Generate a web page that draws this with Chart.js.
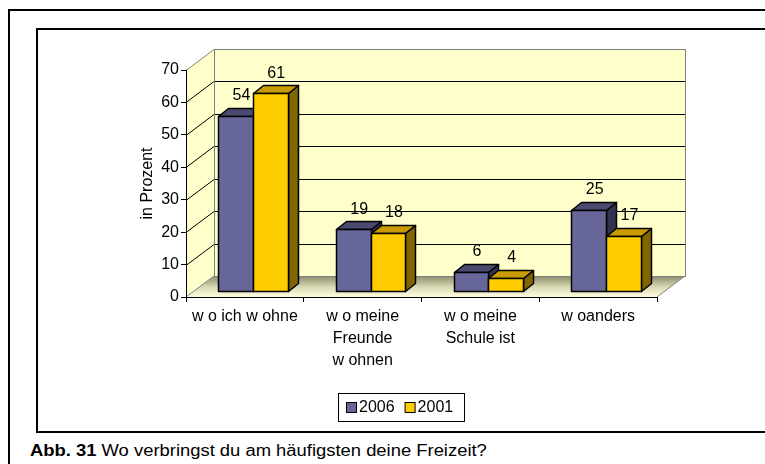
<!DOCTYPE html>
<html>
<head>
<meta charset="utf-8">
<script src="https://cdn.jsdelivr.net/npm/chart.js@4.4.1/dist/chart.umd.min.js"></script>
<style>
  html, body { margin: 0; padding: 0; background: #fff; overflow: hidden; }
  body { width: 765px; height: 464px; position: relative; font-family: "Liberation Sans", Arial, sans-serif; }
  .outer { position: absolute; left: 8px; top: 9px; width: 800px; height: 500px; border: 2px solid #000; box-sizing: border-box; }
  .inner { position: absolute; left: 36px; top: 28px; width: 780px; height: 405px; border: 2px solid #000; box-sizing: border-box; }
  #wrap { position: absolute; left: 36px; top: 28px; width: 730px; height: 404px; }
  .caption { position: absolute; left: 30px; top: 442px; font-size: 16px; line-height: 18px; color: #000; white-space: nowrap;
             transform: scaleX(1.15); transform-origin: left top; }
</style>
</head>
<body>
<div class="outer"></div>
<div id="wrap"><canvas id="chart" width="730" height="404"></canvas></div>
<div class="inner"></div>
<div class="caption"><b>Abb. 31</b> Wo verbringst du am häufigsten deine Freizeit?</div>
<script>
// Chart data
const categories = [
    'w o ich w ohne',
    ['w o meine', 'Freunde', 'w ohnen'],
    ['w o meine', 'Schule ist'],
    'w oanders'
];
const seriesLabels = ['2006', '2001'];
const values2006 = [54, 19, 6, 25];
const values2001 = [61, 18, 4, 17];
const yTicks = [0, 10, 20, 30, 40, 50, 60, 70];

// colours: front, top, side
const barColors = [
    { front: '#666699', top: '#4a4a70', side: '#33334f' },
    { front: '#ffcc00', top: '#c89b00', side: '#806600' }
];

const FONT = '"Liberation Sans", Arial, sans-serif';
Chart.defaults.font.family = FONT;
Chart.defaults.color = '#000';

// 3D geometry (pixels)
const wallDepth = { dx: 28, dy: -21 };
const barShift = { dx: 8, dy: -6 };
const barDepth = { dx: 10, dy: -8 };

function poly(ctx, pts) {
    ctx.beginPath();
    ctx.moveTo(pts[0][0], pts[0][1]);
    for (let i = 1; i < pts.length; i++) ctx.lineTo(pts[i][0], pts[i][1]);
    ctx.closePath();
}

// walls + floor + gridlines behind everything
const wallsPlugin = {
    id: 'walls',
    beforeDraw(chart) {
        const ctx = chart.ctx;
        const { left, right, top, bottom } = chart.chartArea;
        const { dx, dy } = wallDepth;
        const yScale = chart.scales.y;
        ctx.save();
        ctx.fillStyle = '#ffffcc';
        // back wall
        ctx.fillRect(left + dx, top + dy, right - left, bottom - top);
        // side wall
        poly(ctx, [[left, top], [left + dx, top + dy], [left + dx, bottom + dy], [left, bottom]]);
        ctx.fill();
        // floor
        const grad = ctx.createLinearGradient(0, bottom + dy, 0, bottom);
        grad.addColorStop(0, '#8c8c70');
        grad.addColorStop(0.5, '#d6d6b0');
        grad.addColorStop(1, '#ffffe0');
        ctx.fillStyle = grad;
        poly(ctx, [[left, bottom], [left + dx, bottom + dy], [right + dx, bottom + dy], [right, bottom]]);
        ctx.fill();

        // gridlines on side and back wall
        ctx.lineWidth = 1;
        yTicks.forEach(v => {
            if (v === yTicks[0] || v === yTicks[yTicks.length - 1]) return;
            const py = Math.round(yScale.getPixelForValue(v)) + 0.5;
            ctx.strokeStyle = '#000';
            ctx.beginPath();
            ctx.moveTo(left, py);
            ctx.lineTo(left + dx, py + dy);
            ctx.lineTo(right + dx, py + dy);
            ctx.stroke();
        });

        // wall outlines
        ctx.strokeStyle = '#808080';
        ctx.strokeRect(Math.round(left + dx) + 0.5, Math.round(top + dy) + 0.5, right - left, bottom - top);
        ctx.beginPath();
        ctx.moveTo(left, top + 0.5);
        ctx.lineTo(left + dx, top + dy + 0.5);
        ctx.moveTo(left, bottom);
        ctx.lineTo(left + dx, bottom + dy);
        ctx.moveTo(right, bottom);
        ctx.lineTo(right + dx, bottom + dy);
        ctx.stroke();
        ctx.restore();
    }
};

function drawBar3d(ctx, x0, x1, yTop, yBase, c) {
    const { dx, dy } = barDepth;
    ctx.lineWidth = 1.5;
    ctx.strokeStyle = '#000';
    ctx.lineJoin = 'round';
    // side
    poly(ctx, [[x1, yTop], [x1 + dx, yTop + dy], [x1 + dx, yBase + dy], [x1, yBase]]);
    ctx.fillStyle = c.side; ctx.fill(); ctx.stroke();
    // top
    poly(ctx, [[x0, yTop], [x0 + dx, yTop + dy], [x1 + dx, yTop + dy], [x1, yTop]]);
    ctx.fillStyle = c.top; ctx.fill(); ctx.stroke();
    // front
    poly(ctx, [[x0, yTop], [x1, yTop], [x1, yBase], [x0, yBase]]);
    ctx.fillStyle = c.front; ctx.fill(); ctx.stroke();
}

// draws the bars as 3D blocks, then the value labels
const bars3dPlugin = {
    id: 'bars3d',
    beforeDatasetDraw() {
        return false; // flat bars are replaced by 3D ones
    },
    afterDatasetsDraw(chart) {
        const ctx = chart.ctx;
        const metas = chart.data.datasets.map((d, i) => chart.getDatasetMeta(i));
        ctx.save();
        for (let i = 0; i < categories.length; i++) {
            metas.forEach((meta, di) => {
                const el = meta.data[i];
                const p = el.getProps(['x', 'y', 'base', 'width'], true);
                const x0 = Math.round(p.x - p.width / 2 + barShift.dx) + 0.5;
                const x1 = Math.round(p.x + p.width / 2 + barShift.dx) + 0.5;
                const yTop = Math.round(p.y + barShift.dy) + 0.5;
                const yBase = Math.round(p.base + barShift.dy) + 0.5;
                drawBar3d(ctx, x0, x1, yTop, yBase, barColors[di]);
            });
        }
        // labels
        ctx.font = '16px ' + FONT;
        ctx.fillStyle = '#000';
        ctx.textAlign = 'center';
        ctx.textBaseline = 'middle';
        metas.forEach((meta, di) => {
            const vals = chart.data.datasets[di].data;
            meta.data.forEach((el, i) => {
                const p = el.getProps(['x', 'y'], true);
                ctx.fillText(String(vals[i]), p.x + barShift.dx + 6, p.y + barShift.dy - 20);
            });
        });
        ctx.restore();
    }
};

// legend with a frame, centred under the chart
const legendPlugin = {
    id: 'boxLegend',
    afterDraw(chart) {
        const ctx = chart.ctx;
        ctx.save();
        ctx.font = '16px ' + FONT;
        const box = 10, gapText = 3, gapItem = 10, padL = 8, padR = 11;
        const widths = seriesLabels.map(l => ctx.measureText(l).width);
        let total = padL + padR + gapItem * (seriesLabels.length - 1);
        widths.forEach(w => { total += box + gapText + w; });
        const bx = Math.round((chart.width - total) / 2);
        const by = chart.height - 39;
        const bh = 28;
        ctx.lineWidth = 1;
        ctx.strokeStyle = '#000';
        ctx.strokeRect(bx + 0.5, by + 0.5, Math.round(total), bh);
        let x = bx + padL;
        const cy = by + bh / 2;
        ctx.textBaseline = 'middle';
        ctx.textAlign = 'left';
        seriesLabels.forEach((l, i) => {
            ctx.fillStyle = barColors[i].front;
            ctx.fillRect(x + 0.5, Math.round(cy - box / 2) + 0.5, box, box);
            ctx.strokeRect(x + 0.5, Math.round(cy - box / 2) + 0.5, box, box);
            ctx.fillStyle = '#000';
            ctx.fillText(l, x + box + gapText, cy + 1);
            x += box + gapText + widths[i] + gapItem;
        });
        ctx.restore();
    }
};

new Chart(document.getElementById('chart'), {
    type: 'bar',
    data: {
        labels: categories,
        datasets: [
            { label: seriesLabels[0], data: values2006, backgroundColor: barColors[0].front },
            { label: seriesLabels[1], data: values2001, backgroundColor: barColors[1].front }
        ]
    },
    options: {
        responsive: false,
        animation: false,
        layout: { padding: { left: 98, top: 42, right: 109, bottom: 36 } },
        datasets: { bar: { barPercentage: 1, categoryPercentage: 0.59 } },
        plugins: { legend: { display: false }, tooltip: { enabled: false } },
        scales: {
            x: {
                offset: true,
                grid: { drawOnChartArea: false, offset: true, tickLength: 5, color: '#000' },
                border: { color: '#000', width: 1 },
                ticks: { font: { size: 16, lineHeight: 1.375 }, padding: 4, maxRotation: 0, autoSkip: false },
                afterFit(scale) { scale.height = 99; }
            },
            y: {
                min: yTicks[0],
                max: yTicks[yTicks.length - 1],
                afterBuildTicks(scale) { scale.ticks = yTicks.map(v => ({ value: v })); },
                grid: { drawOnChartArea: false, tickLength: 5, color: '#000' },
                border: { color: '#000', width: 1 },
                ticks: { font: { size: 16 }, padding: 2 },
                title: { display: true, text: 'in Prozent', font: { size: 16 } },
                afterFit(scale) { scale.width = 52; }
            }
        }
    },
    plugins: [wallsPlugin, bars3dPlugin, legendPlugin]
});
</script>
</body>
</html>
